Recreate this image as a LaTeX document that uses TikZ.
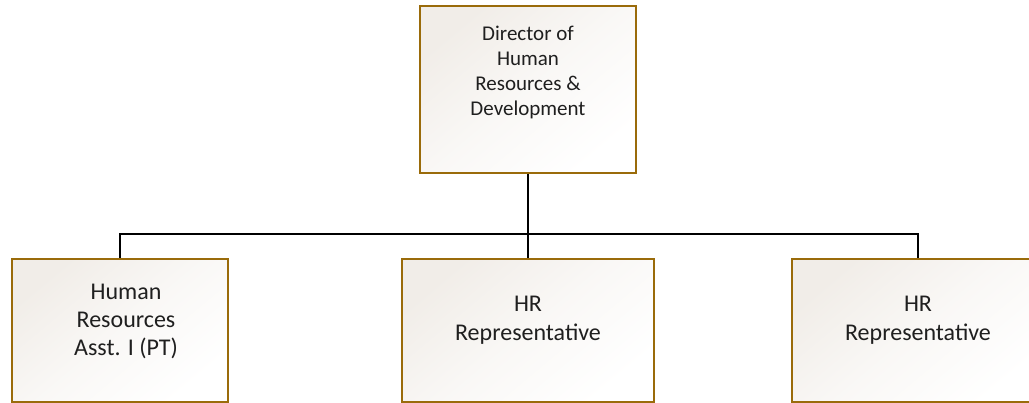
\documentclass[tikz,border=0pt]{standalone}
\usepackage{fontspec}
\setmainfont{Carlito}
\definecolor{edge}{HTML}{9A6B0A}
\definecolor{beige}{HTML}{F1EDE8}
\tikzset{
  box/.style={draw=edge, line width=2pt, rectangle, inner sep=0pt, top color=beige, bottom color=white, middle color=white!60!beige, shading angle=40},
  txt/.style={align=center, text=black!88, inner sep=0pt},
  conn/.style={draw=black, line width=2.5pt}
}
\begin{document}
\begin{tikzpicture}[x=1pt,y=-1pt]
\useasboundingbox (0,0) rectangle (1029,403);
\clip (0,0) rectangle (1029,403);
\node[box, minimum width=216pt, minimum height=167pt] (dir) at (528,90) {};
\node[box, minimum width=216pt, minimum height=143pt] (asst) at (120,330.5) {};
\node[box, minimum width=252pt, minimum height=143pt] (rep1) at (528,330.5) {};
\node[box, minimum width=252pt, minimum height=143pt] (rep2) at (918,330.5) {};
\node[txt, font=\fontsize{21}{25}\selectfont] (tdir) at (528,72) {Director of\\Human\\Resources \&\\Development};
\node[txt, font=\fontsize{24}{28}\selectfont] (tasst) at (126,321) {Human\\Resources\\Asst. I (PT)};
\node[txt, font=\fontsize{24}{29}\selectfont] (trep1) at (528,320.5) {HR\\Representative};
\node[txt, font=\fontsize{24}{29}\selectfont] (trep2) at (918,320.5) {HR\\Representative};
\coordinate (bus) at (528,234);
\draw[conn] (dir.south) -- (bus);
\draw[conn] (asst.north) |- (bus) -| (rep2.north);
\draw[conn] (bus) -- (rep1.north);
\end{tikzpicture}
\end{document}
